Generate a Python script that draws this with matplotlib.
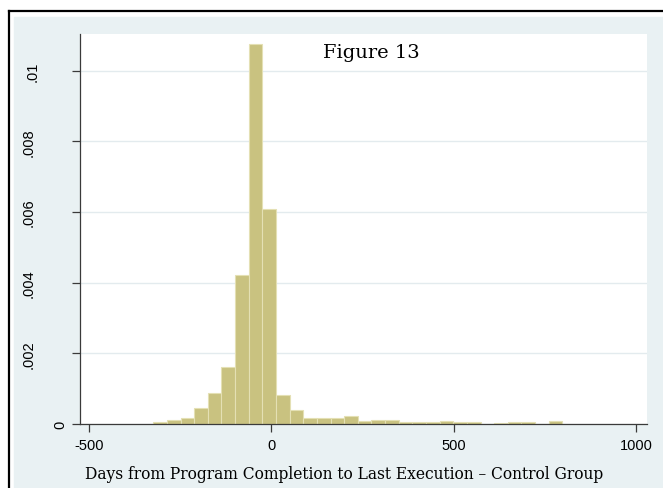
import numpy as np
import matplotlib
matplotlib.use("Agg")
import matplotlib.pyplot as plt
from matplotlib.patches import Rectangle
from matplotlib.lines import Line2D
from matplotlib.transforms import blended_transform_factory

W, H = 663, 489
BG, BAR, BAR_EDGE, AXC, GRID = "#e9f1f3", "#c9c280", "#e4e0b4", "#3a3a3a", "#e3ebee"

# histogram: 30 bins from min to max of the data (densities)
bin_start, bin_end, n_bins = -324.0, 798.0, 30
density = [0.00007, 0.00012, 0.00017, 0.00044, 0.00087, 0.0016, 0.00423, 0.01076,
           0.0061, 0.00083, 0.000405, 0.00016, 0.00016, 0.00016, 0.00022, 0.00008,
           0.00011, 0.00011, 0.00005, 0.00005, 0.00005, 0.00008, 0.00005, 0.00005,
           0.0, 0.00003, 0.00005, 0.00005, 0.0, 0.00008]
xticks = [-500, 0, 500, 1000]
yticks = [0, 0.002, 0.004, 0.006, 0.008, 0.01]
ylabels = ["0", ".002", ".004", ".006", ".008", ".01"]
title = "Figure 13"
xlabel = "Days from Program Completion to Last Execution \u2013 Control Group"

edges = np.linspace(bin_start, bin_end, n_bins + 1)

fig = plt.figure(figsize=(W / 100, H / 100), dpi=100, facecolor="white")
# stata-ish outer frame: light panel + black border (left/top only, rest is cropped)
fig.patches.append(Rectangle((14 / W, 0), 1, 1 - 18 / H, transform=fig.transFigure,
                             color=BG, zorder=-10))
fig.lines.append(Line2D([8.5 / W, 8.5 / W], [0, 1 - 12 / H], transform=fig.transFigure,
                        color="k", lw=1.6, zorder=-5))
fig.lines.append(Line2D([8.5 / W, 1], [1 - 12 / H, 1 - 12 / H], transform=fig.transFigure,
                        color="k", lw=1.6, zorder=-5))

ax = fig.add_axes([80 / W, 1 - 425 / H, (647 - 80) / W, (425 - 35) / H])
ax.set_facecolor("white")
ax.bar(edges[:-1], density, width=np.diff(edges), align="edge",
       color=BAR, edgecolor=BAR_EDGE, linewidth=0.8, zorder=2)

ax.set_xlim(-525, 1030)
ax.set_ylim(0, 0.01104)
for s in ("top", "right"):
    ax.spines[s].set_visible(False)
for s in ("left", "bottom"):
    ax.spines[s].set_color(AXC); ax.spines[s].set_linewidth(0.9); ax.spines[s].set_zorder(3)
ax.yaxis.grid(True, color=GRID, lw=1.0, zorder=0)
ax.set_axisbelow(True)

ax.set_xticks(xticks)
ax.set_xticklabels([str(v) for v in xticks], family="Liberation Sans", fontsize=10.5)
ax.set_yticks(yticks)
ax.set_yticklabels([])
ax.tick_params(direction="out", length=6, width=0.9, color=AXC, pad=4)

# stata puts vertical labels right-justified on their unrotated width -> short ones sit closer
lab_x = {"0": 60, ".01": 33}
tr = blended_transform_factory(fig.transFigure, ax.transData)
for v, lab in zip(yticks, ylabels):
    ax.text(lab_x.get(lab, 29) / W, v, lab, transform=tr, rotation=90,
            ha="center", va="center", family="Liberation Sans", fontsize=10.5, clip_on=False)

fig.text(371 / W, 1 - 58 / H, title, family="DejaVu Serif", fontsize=14, ha="center", va="baseline")
fig.text(344 / W, 1 - 479 / H, xlabel, family="DejaVu Serif", fontsize=11.2, ha="center", va="baseline")

fig.savefig("out.png", dpi=100)
